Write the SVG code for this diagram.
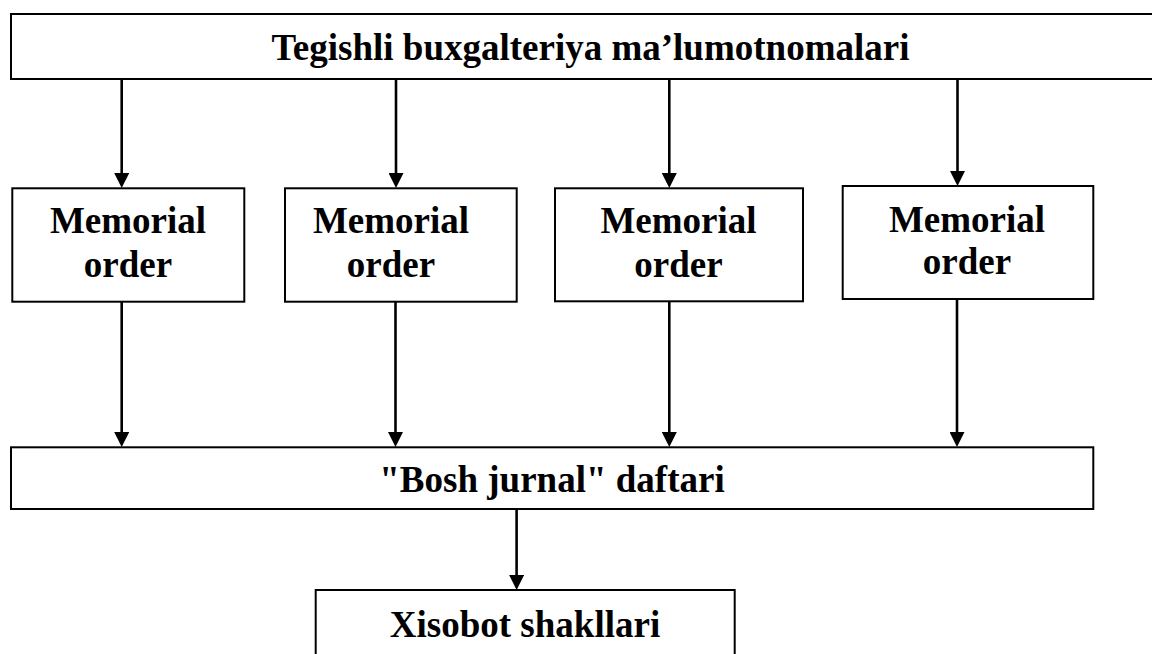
<svg xmlns="http://www.w3.org/2000/svg" width="1152" height="654" viewBox="0 0 1152 654">
  <style>
    .box { fill: #ffffff; stroke: #000000; stroke-width: 2; }
    .lbl { font-family: "Liberation Serif", "Times New Roman", serif; font-weight: bold; font-size: 37px; fill: #000000; text-anchor: middle; }
    .arrow { fill: none; stroke: #000000; stroke-width: 2.6; marker-end: url(#head); }
  </style>
  <defs>
    <marker id="head" viewBox="0 0 15 15" markerUnits="userSpaceOnUse" markerWidth="15" markerHeight="15" refX="3" refY="7.5" orient="auto">
      <path d="M0,0 L15,7.5 L0,15 Z" fill="#000000"/>
    </marker>
  </defs>
  <rect width="1152" height="654" fill="#ffffff"/>

  <g id="connectors">
    <!-- source documents to each memorial order (line ends 12px above the tip) -->
    <path class="arrow" d="M121.7,79 L121.7,176"/>
    <path class="arrow" d="M396,79 L396,176"/>
    <path class="arrow" d="M669.3,79 L669.3,176"/>
    <path class="arrow" d="M957.5,79 L957.5,174"/>
    <!-- memorial orders to the general journal -->
    <path class="arrow" d="M121.7,301.7 L121.7,435"/>
    <path class="arrow" d="M395.5,301.7 L395.5,435"/>
    <path class="arrow" d="M669.3,301 L669.3,435"/>
    <path class="arrow" d="M957,299 L957,435"/>
    <!-- general journal to reporting forms -->
    <path class="arrow" d="M516.6,509 L516.6,578"/>
  </g>

  <g id="sources">
    <rect class="box" x="11" y="14" width="1160" height="65"/>
    <text class="lbl" x="590.5" y="60">Tegishli buxgalteriya ma’lumotnomalari</text>
  </g>

  <g id="order1">
    <rect class="box" x="12.3" y="188.3" width="232" height="113.4"/>
    <text class="lbl" x="128" y="233.3">Memorial</text>
    <text class="lbl" x="128" y="276.7">order</text>
  </g>

  <g id="order2">
    <rect class="box" x="285" y="188.3" width="231.7" height="113.4"/>
    <text class="lbl" x="391" y="233.3">Memorial</text>
    <text class="lbl" x="391" y="276.7">order</text>
  </g>

  <g id="order3">
    <rect class="box" x="555" y="188.3" width="248" height="113"/>
    <text class="lbl" x="678.5" y="233.3">Memorial</text>
    <text class="lbl" x="678.5" y="276.7">order</text>
  </g>

  <g id="order4">
    <rect class="box" x="842.7" y="186" width="250.6" height="113"/>
    <text class="lbl" x="967" y="231.7">Memorial</text>
    <text class="lbl" x="967" y="274.3">order</text>
  </g>

  <g id="journal">
    <rect class="box" x="11" y="447.3" width="1082.3" height="61.7"/>
    <text class="lbl" x="552" y="491.7">"Bosh jurnal" daftari</text>
  </g>

  <g id="reports">
    <rect class="box" x="315.7" y="590" width="419" height="80"/>
    <text class="lbl" x="525" y="636.7">Xisobot shakllari</text>
  </g>
</svg>
